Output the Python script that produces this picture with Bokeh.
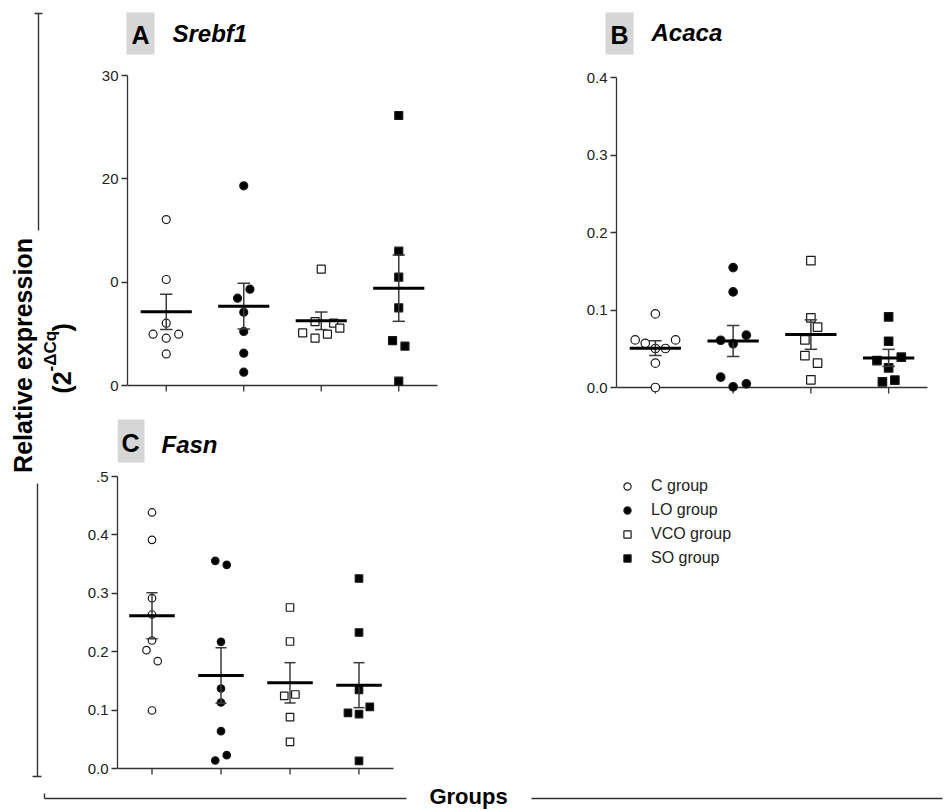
import math
from bokeh.plotting import figure
from bokeh.layouts import row, column
from bokeh.models import Range1d, FixedTicker, Legend, LegendItem
from bokeh.core.properties import value
from bokeh.embed import file_html
from bokeh.resources import INLINE

FONT = "Liberation Sans"
INK = "#1a1a1a"
AXIS = "#333333"
BOXC = "#d6d6d6"

# ---------------- data ----------------
group_labels = ["C group", "LO group", "VCO group", "SO group"]
group_marker = ["circle", "circle", "square", "square"]
group_fill = ["white", "black", "white", "black"]
group_pos = [1, 2, 3, 4]

# A  Srebf1
srebf1_C = [16.06, 10.26, 6.03, 4.97, 4.97, 4.58, 3.06]
srebf1_LO = [19.32, 9.32, 8.45, 7.10, 5.23, 3.13, 1.29]
srebf1_VCO = [11.26, 6.19, 6.03, 5.55, 5.10, 4.97, 4.58]
srebf1_SO = [26.13, 13.00, 10.48, 7.52, 4.35, 3.81, 0.42]
srebf1_jit_C = [0, 0, 0, -0.17, 0.16, 0, 0]
srebf1_jit_LO = [0, 0.08, -0.08, 0, 0, 0, 0]
srebf1_jit_VCO = [0, -0.08, 0.16, 0.24, -0.24, 0.08, -0.08]
srebf1_jit_SO = [0, 0, 0, 0, -0.08, 0.08, 0]
srebf1_mean = [7.13, 7.68, 6.26, 9.42]
srebf1_sem = [1.70, 2.22, 0.85, 3.21]
srebf1_ticks = [0, 10, 20, 30]
srebf1_ticklabels = ["0", "0", "20", "30"]

# B  Acaca
acaca_C = [0.095, 0.0614, 0.057, 0.0614, 0.0503, 0.0503, 0.0314, 0.0]
acaca_LO = [0.1547, 0.1233, 0.0675, 0.061, 0.0563, 0.0133, 0.0047, 0.0009]
acaca_VCO = [0.1637, 0.0898, 0.0778, 0.0614, 0.0412, 0.0314, 0.0099]
acaca_SO = [0.0911, 0.0597, 0.0391, 0.0348, 0.0253, 0.0095, 0.0073]
acaca_jit_C = [0, -0.26, -0.13, 0.26, 0, 0.13, 0, 0]
acaca_jit_LO = [0, 0, 0.17, -0.16, 0, -0.16, 0.17, 0]
acaca_jit_VCO = [0, 0, 0.086, -0.077, -0.077, 0.086, 0]
acaca_jit_SO = [0, 0, 0.163, -0.15, 0, 0.08, -0.08]
acaca_mean = [0.0507, 0.0601, 0.0683, 0.0382]
acaca_sem = [0.0095, 0.0200, 0.0190, 0.0110]
acaca_ticks = [0.0, 0.1, 0.2, 0.3, 0.4]
acaca_ticklabels = ["0.0", "0.1", "0.2", "0.3", "0.4"]

# C  Fasn
fasn_C = [0.4384, 0.3916, 0.2917, 0.2637, 0.2192, 0.2026, 0.1838, 0.0993]
fasn_LO = [0.3556, 0.3487, 0.2169, 0.137, 0.113, 0.0639, 0.0137, 0.0228]
fasn_VCO = [0.2757, 0.2175, 0.1244, 0.1267, 0.0879, 0.0457]
fasn_SO = [0.3253, 0.2329, 0.1347, 0.1056, 0.0953, 0.093, 0.0131]
fasn_jit_C = [0, 0, 0, 0, 0, -0.08, 0.083, 0]
fasn_jit_LO = [-0.083, 0.083, 0, 0, 0, 0, -0.083, 0.083]
fasn_jit_VCO = [0, 0, -0.083, 0.078, 0, 0]
fasn_jit_SO = [0, 0, 0, 0.156, -0.16, 0, 0]
fasn_mean = [0.2614, 0.1592, 0.1467, 0.1427]
fasn_sem = [0.0394, 0.0474, 0.0345, 0.0385]
fasn_ticks = [0.0, 0.1, 0.2, 0.3, 0.4, 0.5]
fasn_ticklabels = ["0.0", "0.1", "0.2", "0.3", "0.4", ".5"]

panel_letters = ["A", "B", "C"]
panel_genes = ["Srebf1", "Acaca", "Fasn"]


def make_panel(series, jitters, means, sems, ticks, ticklabels,
               fig_x, fig_y, fig_w, fig_h, x0s, x1s, y0s, y1s, msize):
    """x0s/x1s: pixel of x=0.5 / x=4.5; y0s/y1s: pixel of y=0 / y=top tick."""
    ymax = ticks[-1]
    frame_right = fig_x + fig_w
    frame_top = fig_y
    frame_bottom = fig_y + fig_h
    px_x = (x1s - x0s) / 4.0
    upp = ymax / (y0s - y1s)  # data units per pixel (y)
    xr = Range1d(0.5, 0.5 + (frame_right - x0s) / px_x)
    yr = Range1d(-(frame_bottom - y0s) * upp, (y0s - frame_top) * upp)

    p = figure(width=fig_w, height=fig_h, x_range=xr, y_range=yr,
               output_backend="svg", toolbar_location=None,
               x_axis_location=None,
               min_border_left=x0s - fig_x, min_border_right=0,
               min_border_top=0, min_border_bottom=0)
    p.outline_line_color = None
    p.grid.visible = False
    p.background_fill_color = "white"
    p.border_fill_color = "white"

    ya = p.yaxis[0]
    ya.ticker = FixedTicker(ticks=ticks)
    ya.bounds = (0, ymax)
    ya.major_label_overrides = {t: lab for t, lab in zip(ticks, ticklabels)}
    ya.major_label_text_font = FONT
    ya.major_label_text_font_size = "15px"
    ya.major_label_text_color = "#222222"
    ya.major_label_standoff = 3
    ya.axis_line_color = AXIS
    ya.axis_line_width = 1.3
    ya.major_tick_line_color = AXIS
    ya.major_tick_line_width = 1.3
    ya.major_tick_out = 6
    ya.major_tick_in = 0
    ya.minor_tick_line_color = None

    # category (x) axis: baseline and ticks, no labels
    p.segment(x0=[0.5], y0=[0], x1=[4.5], y1=[0], line_color=AXIS, line_width=1.3)
    p.segment(x0=group_pos, y0=[0] * 4, x1=group_pos, y1=[-6 * upp] * 4,
              line_color=AXIS, line_width=1.3)

    renderers = []
    for i, (vals, jit) in enumerate(zip(series, jitters)):
        xs = [group_pos[i] + j for j in jit]
        r = p.scatter(xs, vals, marker=group_marker[i], size=msize,
                      fill_color=group_fill[i], line_color=INK, line_width=1.2)
        renderers.append(r)

    gx = group_pos
    lo = [m - s for m, s in zip(means, sems)]
    hi = [m + s for m, s in zip(means, sems)]
    p.segment(x0=gx, y0=lo, x1=gx, y1=hi, line_color="#3a3a3a", line_width=1.5)
    p.segment(x0=[g - 0.08 for g in gx], y0=hi, x1=[g + 0.08 for g in gx], y1=hi,
              line_color="#3a3a3a", line_width=1.5)
    p.segment(x0=[g - 0.08 for g in gx], y0=lo, x1=[g + 0.08 for g in gx], y1=lo,
              line_color="#3a3a3a", line_width=1.5)
    p.segment(x0=[g - 0.33 for g in gx], y0=means, x1=[g + 0.33 for g in gx], y1=means,
              line_color="black", line_width=3)
    return p, renderers


def strip(x_off, y_off, w, h, border_left=0):
    """A plain drawing strip whose coordinates are page pixels (y downwards)."""
    s = figure(width=w, height=h, x_range=Range1d(x_off + border_left, x_off + w),
               y_range=Range1d(y_off + h, y_off),
               output_backend="svg", toolbar_location=None,
               x_axis_type=None, y_axis_type=None,
               min_border_left=border_left, min_border_right=0,
               min_border_top=0, min_border_bottom=0)
    s.outline_line_color = None
    s.grid.visible = False
    return s


def add_titles(s, boxes, letter_xy, gene_xy, letters, genes):
    s.quad(left=[b[0] for b in boxes], right=[b[2] for b in boxes],
           top=[b[1] for b in boxes], bottom=[b[3] for b in boxes],
           fill_color=BOXC, line_color=None)
    s.text(x=[q[0] for q in letter_xy], y=[q[1] for q in letter_xy], text=letters,
           text_font=value(FONT), text_font_size="25px", text_font_style="bold",
           text_align="center", text_baseline="middle", text_color="black")
    s.text(x=[q[0] for q in gene_xy], y=[q[1] for q in gene_xy], text=genes,
           text_font=value(FONT), text_font_size="24px", text_font_style="bold italic",
           text_align="left", text_baseline="middle", text_color="black")


# title strips (their frames line up with panel C's frame, at page x = 117)
tTop = strip(80, 0, 870, 62, border_left=37)
add_titles(tTop, [(126, 12, 154, 54), (605, 12, 633, 54)], [(140, 34), (619, 34)],
           [(172, 33), (651, 32)], panel_letters[:2], panel_genes[:2])
tC = strip(80, 400, 870, 68, border_left=37)
add_titles(tC, [(117, 419, 144, 462)], [(130, 442)], [(161, 444)],
           panel_letters[2:], panel_genes[2:])

pA, _ = make_panel([srebf1_C, srebf1_LO, srebf1_VCO, srebf1_SO],
                   [srebf1_jit_C, srebf1_jit_LO, srebf1_jit_VCO, srebf1_jit_SO],
                   srebf1_mean, srebf1_sem, srebf1_ticks, srebf1_ticklabels,
                   80, 62, 480, 338, 127, 437, 385, 75, 8)
pB, _ = make_panel([acaca_C, acaca_LO, acaca_VCO, acaca_SO],
                   [acaca_jit_C, acaca_jit_LO, acaca_jit_VCO, acaca_jit_SO],
                   acaca_mean, acaca_sem, acaca_ticks, acaca_ticklabels,
                   560, 62, 390, 338, 616, 927, 387, 77, 8.5)
pC, rC = make_panel([fasn_C, fasn_LO, fasn_VCO, fasn_SO],
                    [fasn_jit_C, fasn_jit_LO, fasn_jit_VCO, fasn_jit_SO],
                    fasn_mean, fasn_sem, fasn_ticks, fasn_ticklabels,
                    80, 468, 870, 312, 117, 393, 768, 476, 7.5)

legend = Legend(items=[LegendItem(label=lab, renderers=[r]) for lab, r in zip(group_labels, rC)],
                location=(501, 213), orientation="vertical",
                glyph_width=18, glyph_height=18, label_height=18, spacing=6,
                label_standoff=15, padding=0, margin=0,
                border_line_color=None, background_fill_alpha=0,
                label_text_font=FONT, label_text_font_size="16px",
                label_text_color="#222222")
pC.add_layout(legend, "center")

# ---------------- left strip (y label) ----------------
pL = strip(0, 0, 80, 780)
pL.segment(x0=[38, 34, 37, 32], y0=[13, 13, 483, 776], x1=[38, 42, 37, 41], y1=[230, 13, 776, 776],
           line_color=AXIS, line_width=1.4)
pL.text(x=[22], y=[355], text=["Relative expression"], angle=math.pi / 2,
        text_font=value(FONT), text_font_size="25px", text_font_style="bold",
        text_align="center", text_baseline="middle", text_color="black")
pL.text(x=[61, 50, 61], y=[393, 371, 331], text=["(2", "-ΔCq", ")"], angle=math.pi / 2,
        text_font=value(FONT), text_font_size=["25px", "17px", "25px"],
        text_font_style="bold", text_align="left", text_baseline="middle",
        text_color="black")

# ---------------- bottom strip (x label) ----------------
pBot = strip(0, 780, 950, 30)
pBot.segment(x0=[44, 44, 531], y0=[798, 793, 798], x1=[406, 44, 942], y1=[798, 798, 798],
             line_color=AXIS, line_width=1.4)
pBot.text(x=[468], y=[796], text=["Groups"], text_font=value(FONT), text_font_size="22px",
          text_font_style="bold", text_align="center", text_baseline="middle",
          text_color="black")

layout = column(row(pL, column(tTop, row(pA, pB), tC, pC)), pBot)
open("out.html", "w").write(file_html(layout, INLINE))
